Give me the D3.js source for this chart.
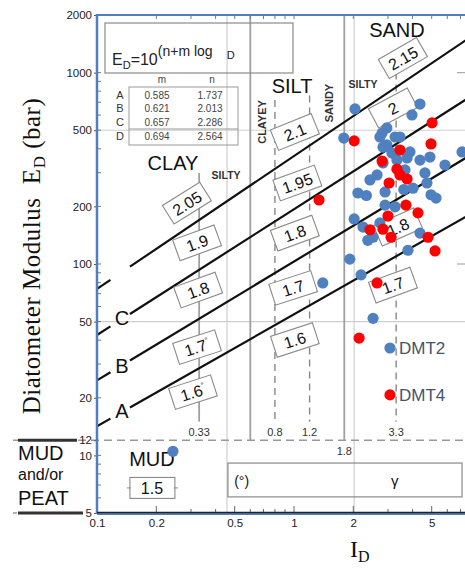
<!DOCTYPE html>
<html><head><meta charset="utf-8">
<script src="https://cdn.jsdelivr.net/npm/d3@7"></script>
<style>
body{margin:0;background:#fff}
svg{display:block}
text{font-family:"Liberation Sans",Arial,sans-serif;fill:#111}
</style>
</head><body>
<svg id="chart" width="465" height="569"></svg>
<script>
// Soil classification lines: E_D = 10^(n + m log I_D)
const lineNames = ['A', 'B', 'C', 'D'];
const lineM = [0.585, 0.621, 0.657, 0.694];
const lineN = [1.737, 2.013, 2.286, 2.564];
const lineTags = ['A', 'B', 'C', ''];

// Axis ticks
const yTickLabels = [2000, 1000, 500, 200, 100, 50, 20, 12, 10, 5];
const xTickLabels = [0.1, 0.2, 0.5, 1, 2, 5];

// Soil-type boundaries on I_D
const boundaryValues = [0.33, 0.6, 0.8, 1.2, 1.8, 3.3];
const boundaryText = ['0.33', '0.8', '1.2', '3.3'];
const boundaryTextAt = [0.33, 0.8, 1.2, 3.3];

// Unit weight γ (t/m³) labels per zone
const gammaText = ['2.05', '1.9', '1.8', '1.7', '1.6', '2.1', '1.95', '1.8', '1.7', '1.6', '2.15', '2', '1.8', '1.7'];
const gammaStar = [false, false, false, true, true, false, false, false, false, false, false, false, false, false];

// DMT results
const dmt2ID = [2.04, 4.36, 3.97, 1.79, 2.96, 2.80, 3.26, 3.45, 2.73, 2.96, 2.83, 3.14, 3.88, 4.36, 4.90,
  5.84, 7.13, 2.64, 2.43, 3.75, 3.66, 2.83, 4.62, 4.73, 2.11, 2.33, 2.90, 3.61, 4.02, 4.96, 5.26, 2.90,
  3.26, 2.02, 2.24, 2.73, 2.52, 2.37, 4.36, 3.79, 1.92, 2.19, 2.52, 1.40, 0.243, 3.33];
const dmt2ED = [646, 685, 601, 455, 514, 483, 461, 461, 461, 419, 408, 380, 385, 349, 362,
  329, 385, 292, 275, 358, 310, 337, 299, 265, 235, 228, 238, 245, 249, 230, 221, 203,
  199, 172, 156, 164, 138, 133, 145, 118, 106, 87.7, 52, 79.6, 10.5, 349];
const dmt4ID = [5.02, 2.02, 4.96, 3.45, 2.80, 3.33, 3.45, 3.75, 3.04, 3.70, 4.26, 3.00, 2.43, 2.83,
  3.11, 4.79, 5.20, 2.64, 1.34, 2.14];
const dmt4ED = [546, 440, 424, 394, 345, 313, 292, 278, 265, 203, 185, 178, 151, 152,
  138, 138, 117, 79.6, 216, 41.0];
const seriesNames = ['DMT2', 'DMT4'];

const BLUE = '#4f80c0', RED = '#ff0000', FRAME = '#4f7fc0';

const svg = d3.select('#chart');
const x = d3.scaleLog().domain([0.1, 10]).range([97, 491]);
const y = d3.scaleLog().domain([5, 2000]).range([513, 15]);
const at = (i, e) => [x(i), y(e)];
const W = 465;

// ---------- light grid ----------
const grid = svg.append('g').attr('stroke', '#cfcfcf').attr('stroke-width', 1.2);
[0.457, 2.02].forEach(v => grid.append('line').attr('x1', x(v)).attr('x2', x(v)).attr('y1', y(2000)).attr('y2', y(5)));
[500, 50].forEach(v => grid.append('line').attr('x1', x(0.1)).attr('x2', W).attr('y1', y(v)).attr('y2', y(v)));
[1000, 100].forEach(v => grid.append('line').attr('x1', W - 8).attr('x2', W).attr('y1', y(v)).attr('y2', y(v)).attr('stroke', '#aaa'));

// ---------- zone boundaries ----------
const bnd = svg.append('g').attr('fill', 'none');
const bndSpec = [
  {v: boundaryValues[0], top: 299, bot: 15, dash: null},
  {v: boundaryValues[1], top: 2000, bot: 12, dash: null},
  {v: boundaryValues[2], top: 720, bot: 15, dash: '7,5'},
  {v: boundaryValues[3], top: 760, bot: 15, dash: '7,5'},
  {v: boundaryValues[4], top: 2000, bot: 12, dash: null},
  {v: boundaryValues[5], top: 1000, bot: 15, dash: '7,5'}
];
bndSpec.forEach(b => {
  bnd.append('line').attr('x1', x(b.v)).attr('x2', x(b.v)).attr('y1', y(b.top)).attr('y2', y(b.bot))
    .attr('stroke', b.dash ? '#888' : '#a0a0a0').attr('stroke-width', b.dash ? 1.4 : 1.8)
    .attr('stroke-dasharray', b.dash);
});
// E_D = 12 limit (mud / peat)
svg.append('line').attr('x1', 13).attr('x2', W).attr('y1', y(12)).attr('y2', y(12))
  .attr('stroke', '#999').attr('stroke-width', 1.5).attr('stroke-dasharray', '8,5');
svg.append('line').attr('x1', 13).attr('x2', 17).attr('y1', y(5)).attr('y2', y(5)).attr('stroke', '#999').attr('stroke-width', 1.5);
svg.append('line').attr('x1', 18).attr('x2', 77).attr('y1', y(12)).attr('y2', y(12)).attr('stroke', '#333').attr('stroke-width', 3);
svg.append('line').attr('x1', 18).attr('x2', 83).attr('y1', y(5)).attr('y2', y(5)).attr('stroke', '#333').attr('stroke-width', 3);

boundaryText.forEach((t, i) => {
  svg.append('text').attr('x', x(boundaryTextAt[i])).attr('y', y(12.6)).attr('text-anchor', 'middle')
    .attr('font-size', 11).style('fill', '#333').text(t);
});
svg.append('text').attr('x', x(1.8)).attr('y', y(10.05)).attr('text-anchor', 'middle')
  .attr('font-size', 11).style('fill', '#333').text('1.8');

// ---------- classification lines ----------
const lineFn = (k, i) => Math.pow(10, lineN[k] + lineM[k] * Math.log10(i));
const lg = svg.append('g').attr('stroke', '#111').attr('stroke-width', 2.2).attr('fill', 'none');
lineNames.forEach((nm, k) => {
  [[0.1, 0.117], [0.147, 10]].forEach(([a, b]) => {
    lg.append('line').attr('x1', x(a)).attr('y1', y(lineFn(k, a))).attr('x2', x(b)).attr('y2', y(lineFn(k, b)));
  });
});
const tagE = [15.7, 27.0, 48.0];
lineTags.forEach((t, k) => {
  if (!t) return;
  svg.append('text').attr('x', x(0.134)).attr('y', y(tagE[k])).attr('text-anchor', 'middle')
    .attr('font-size', 20).text(t);
});

// ---------- zone names ----------
const zoneLbl = (t, i, e, size, opt = {}) => {
  const [px, py] = at(i, e);
  const el = svg.append('text').attr('text-anchor', 'middle').attr('font-size', size)
    .attr('transform', `translate(${px},${py})` + (opt.rot ? ` rotate(${opt.rot})` : ''))
    .text(t);
  if (opt.bold) el.attr('font-weight', 'bold').style('fill', '#333');
  if (opt.mid) el.attr('dominant-baseline', 'central');
  return el;
};
zoneLbl('CLAY', 0.243, 310, 20);
zoneLbl('SILT', 0.977, 783, 20);
zoneLbl('SAND', 3.33, 1535, 20);
zoneLbl('MUD', 0.19, 8.8, 20);
zoneLbl('SILTY', 0.452, 278, 10.5, {bold: true});
zoneLbl('SILTY', 2.24, 831, 10.5, {bold: true});
zoneLbl('CLAYEY', 0.689, 552, 11, {bold: true, rot: -90, mid: true});
zoneLbl('SANDY', 1.51, 693, 11, {bold: true, rot: -90, mid: true});

// ---------- γ boxes ----------
const gammaAt = [[0.286, 208], [0.322, 129], [0.326, 73.1], [0.322, 36.8], [0.307, 21.4],
  [1.01, 490], [1.04, 265], [1.01, 145], [0.99, 75], [1.01, 40.1],
  [3.57, 1191], [3.18, 653], [3.37, 156], [3.18, 77.6]];
const gammaRot = [-32, -20, -20, -18, -18, -22, -20, -20, -18, -18, -30, -28, -24, -20];
gammaText.forEach((t, i) => {
  const [px, py] = at(...gammaAt[i]);
  const g = svg.append('g').attr('transform', `translate(${px},${py}) rotate(${gammaRot[i]})`);
  g.append('rect').attr('x', -22).attr('y', -11).attr('width', 44).attr('height', 22)
    .attr('fill', '#fff').attr('stroke', '#8a8a8a').attr('stroke-width', 1.1);
  const tx = g.append('text').attr('text-anchor', 'middle').attr('y', 6).attr('font-size', 16).text(t);
  if (gammaStar[i]) tx.append('tspan').attr('font-size', 8).attr('dy', -7).text('°');
});
// mud γ box
{
  const [px, py] = at(0.19, 6.76);
  const g = svg.append('g').attr('transform', `translate(${px},${py})`);
  g.append('rect').attr('x', -22).attr('y', -10.5).attr('width', 45).attr('height', 21)
    .attr('fill', '#fff').attr('stroke', '#8a8a8a').attr('stroke-width', 1.1);
  [[-25, -21], [22, 26]].forEach(([a, b]) => g.append('line').attr('x1', a).attr('x2', b).attr('stroke', '#8a8a8a'));
  g.append('text').attr('text-anchor', 'middle').attr('y', 6).attr('font-size', 16).text('1.5');
}
// footnote box
{
  const [x0, y0] = at(0.462, 9.12), [x1, y1] = at(7.13, 6.07);
  svg.append('rect').attr('x', x0).attr('y', y0).attr('width', x1 - x0).attr('height', y1 - y0)
    .attr('fill', 'none').attr('stroke', '#8a8a8a').attr('stroke-width', 1.2);
  svg.append('text').attr('x', x(0.497)).attr('y', y(6.9)).attr('font-size', 14).text('(°)');
  svg.append('text').attr('x', x(3.25)).attr('y', y(6.95)).attr('text-anchor', 'middle').attr('font-size', 15).text('γ');
}

// ---------- formula inset ----------
{
  const g = svg.append('g').attr('transform', `translate(${x(0.1)},${y(2000)})`);
  g.append('rect').attr('x', 8).attr('y', 8).attr('width', 188).attr('height', 50)
    .attr('fill', 'none').attr('stroke', '#8a8a8a').attr('stroke-width', 1.2);
  const f = g.append('text').attr('x', 15).attr('y', 50).attr('font-size', 16).style('fill', '#222');
  f.append('tspan').text('E');
  f.append('tspan').attr('font-size', 11).attr('dy', 4).text('D');
  f.append('tspan').attr('dy', -4).text('=10');
  f.append('tspan').attr('font-size', 14).attr('dy', -9).text('(n+m log');
  f.append('tspan').attr('font-size', 11).attr('dx', 14).attr('dy', 3).text('D');
  g.append('text').attr('x', 65).attr('y', 68).attr('text-anchor', 'middle').attr('font-size', 10).style('fill', '#444').text('m');
  g.append('text').attr('x', 115).attr('y', 68).attr('text-anchor', 'middle').attr('font-size', 10).style('fill', '#444').text('n');
  g.append('rect').attr('x', 32).attr('y', 72).attr('width', 109).attr('height', 58)
    .attr('fill', 'none').attr('stroke', '#999').attr('stroke-width', 1);
  g.append('line').attr('x1', 32).attr('x2', 141).attr('y1', 114).attr('y2', 114).attr('stroke', '#999');
  const rowY = [84, 97, 111, 125];
  lineNames.forEach((nm, k) => {
    g.append('text').attr('x', 23).attr('y', rowY[k]).attr('text-anchor', 'middle').attr('font-size', 11).style('fill', '#333').text(nm);
    g.append('text').attr('x', 60).attr('y', rowY[k]).attr('text-anchor', 'middle').attr('font-size', 10).style('fill', '#444').text(lineM[k].toFixed(3));
    g.append('text').attr('x', 113).attr('y', rowY[k]).attr('text-anchor', 'middle').attr('font-size', 10).style('fill', '#444').text(lineN[k].toFixed(3));
  });
}

// ---------- axes ----------
const minorY = [];
[1, 10, 100, 1000].forEach(d => [1, 2, 3, 4, 5, 6, 7, 8, 9].forEach(k => { const v = k * d; if (v >= 5 && v <= 2000) minorY.push(v); }));
const minorX = [];
[0.1, 1].forEach(d => [1, 2, 3, 4, 5, 6, 7, 8, 9].forEach(k => minorX.push(+(k * d).toFixed(2))));
minorX.push(10);

const ax = svg.append('g');
// left axis ticks (inside) and labels
minorY.forEach(v => ax.append('line').attr('x1', x(0.1)).attr('x2', x(0.1) + 4).attr('y1', y(v)).attr('y2', y(v)).attr('stroke', '#777'));
const yAxis = d3.axisLeft(y).tickValues(yTickLabels).tickFormat(d3.format('d')).tickSize(3).tickPadding(2);
const yg = svg.append('g').attr('transform', `translate(${x(0.1)},0)`).call(yAxis);
yg.select('.domain').remove();
yg.selectAll('.tick line').attr('stroke', '#555');
yg.selectAll('.tick text').attr('font-size', 11.5).attr('font-family', '"Liberation Sans",Arial,sans-serif').style('fill', '#222');

// bottom axis ticks (inside) and labels
minorX.forEach(v => {
  const major = xTickLabels.includes(v);
  ax.append('line').attr('x1', x(v)).attr('x2', x(v)).attr('y1', y(5)).attr('y2', y(5) - (major ? 7 : 4)).attr('stroke', '#666');
  ax.append('line').attr('x1', x(v)).attr('x2', x(v)).attr('y1', y(2000)).attr('y2', y(2000) + 4).attr('stroke', '#777');
});
const xAxis = d3.axisBottom(x).tickValues(xTickLabels).tickFormat(d => String(d)).tickSize(0).tickPadding(6);
const xg = svg.append('g').attr('transform', `translate(0,${y(5)})`).call(xAxis);
xg.select('.domain').remove();
xg.selectAll('.tick text').attr('font-size', 11.5).attr('font-family', '"Liberation Sans",Arial,sans-serif').style('fill', '#222');

// frame
svg.append('line').attr('x1', x(0.1)).attr('x2', W).attr('y1', y(2000)).attr('y2', y(2000)).attr('stroke', FRAME).attr('stroke-width', 2.2);
svg.append('line').attr('x1', x(0.1)).attr('x2', x(0.1)).attr('y1', y(2000) - 1).attr('y2', y(5) + 1).attr('stroke', FRAME).attr('stroke-width', 2.5);
svg.append('line').attr('x1', x(0.1)).attr('x2', W).attr('y1', y(5) + 1).attr('y2', y(5) + 1).attr('stroke', FRAME).attr('stroke-width', 2);
svg.append('line').attr('x1', x(0.1)).attr('x2', W).attr('y1', y(5) - 0.5).attr('y2', y(5) - 0.5).attr('stroke', '#222').attr('stroke-width', 1.5);

// ---------- data points ----------
const pts = svg.append('g');
pts.selectAll('circle.d2').data(d3.zip(dmt2ID, dmt2ED)).join('circle').attr('class', 'd2')
  .attr('cx', d => x(d[0])).attr('cy', d => y(d[1])).attr('r', 5.6).attr('fill', BLUE);
pts.selectAll('circle.d4').data(d3.zip(dmt4ID, dmt4ED)).join('circle').attr('class', 'd4')
  .attr('cx', d => x(d[0])).attr('cy', d => y(d[1])).attr('r', 5.6).attr('fill', RED);

// legend
const legendAt = [[3.07, 36.4], [3.07, 20.7]];
seriesNames.forEach((s, i) => {
  const [px, py] = at(...legendAt[i]);
  svg.append('circle').attr('cx', px).attr('cy', py).attr('r', 5.6).attr('fill', i ? RED : BLUE);
  svg.append('text').attr('x', px + 9).attr('y', py + 6).attr('font-size', 17).style('fill', '#44546a').text(s);
});

// ---------- side labels ----------
[['MUD', 460, 20], ['and/or', 480, 16], ['PEAT', 505, 20]].forEach(([t, yy, fs]) =>
  svg.append('text').attr('x', 18).attr('y', yy).attr('font-size', fs).text(t));

const yl = svg.append('text').attr('transform', 'translate(40,256) rotate(-90)').attr('text-anchor', 'middle')
  .attr('font-size', 25).attr('letter-spacing', 0.5).style('font-family', '"Liberation Serif","Times New Roman",serif');
yl.append('tspan').text('Diatometer Modulus\u00a0\u00a0E');
yl.append('tspan').attr('font-size', 17).attr('dy', 5).text('D');
yl.append('tspan').attr('dy', -5).text('\u00a0(bar)');

const xl = svg.append('text').attr('x', 350).attr('y', 557).attr('font-size', 24)
  .style('font-family', '"Liberation Serif","Times New Roman",serif');
xl.append('tspan').text('I');
xl.append('tspan').attr('font-size', 16).attr('dy', 5).text('D');
</script>
</body></html>
